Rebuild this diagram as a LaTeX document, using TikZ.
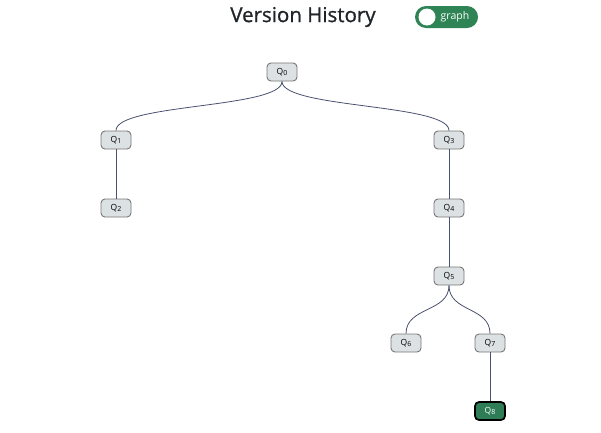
\documentclass[tikz,border=0pt]{standalone}
\usepackage{fontspec}
\setmainfont{Open Sans}
\newfontfamily\titlefont{Open Sans}[FakeBold=1]
\definecolor{tog}{RGB}{46,132,84}
\definecolor{nodefill}{RGB}{220,225,227}
\definecolor{nodeborder}{RGB}{118,118,118}
\definecolor{curfill}{RGB}{46,125,86}
\definecolor{linkcol}{RGB}{74,81,112}
\definecolor{titlecol}{RGB}{33,37,41}
\newcommand{\qv}[1]{Q\raisebox{-1.6pt}{\fontsize{7}{7}\selectfont #1}}
\begin{document}
\begin{tikzpicture}[x=1pt,y=-1pt,
  vnode/.style={draw=nodeborder,fill=nodefill,line width=0.9pt,rounded corners=4pt,minimum width=30pt,minimum height=18pt,inner sep=0pt,font=\fontsize{8.5}{9}\selectfont},
  curnode/.style={vnode,draw=black,line width=1.7pt,fill=curfill,text=white},
  link/.style={draw=linkcol,line width=0.8pt}]
\useasboundingbox (0,0) rectangle (601,432);
\node[text=titlecol] (title) at (303,17) {\titlefont\fontsize{20.5}{24}\selectfont Version History};
\node[draw=none,fill=tog,rounded corners=11pt,minimum width=63pt,minimum height=22pt,inner sep=0pt] (toggle) at (446.5,17) {};
\node[circle,fill=white,minimum size=17pt,inner sep=0pt] (knob) at (427,17) {};
\node[text=white,font=\fontsize{10.5}{12}\selectfont,inner sep=0pt] (tlabel) at (455,17) {graph};
\node[vnode] (q0) at (282,72) {\qv{0}};
\node[vnode] (q1) at (116,140) {\qv{1}};
\node[vnode] (q2) at (116,208) {\qv{2}};
\node[vnode] (q3) at (449,140) {\qv{3}};
\node[vnode] (q4) at (449,208) {\qv{4}};
\node[vnode] (q5) at (449,276) {\qv{5}};
\node[vnode] (q6) at (406,343) {\qv{6}};
\node[vnode] (q7) at (490,343) {\qv{7}};
\node[curnode] (q8) at (490,411) {\qv{8}};
\draw[link] (q0.south) .. controls +(0,27) and +(0,-27) .. (q1.north);
\draw[link] (q0.south) .. controls +(0,27) and +(0,-27) .. (q3.north);
\draw[link] (q1.south) -- (q2.north);
\draw[link] (q3.south) -- (q4.north);
\draw[link] (q4.south) -- (q5.north);
\draw[link] (q5.south) .. controls +(0,27) and +(0,-27) .. (q6.north);
\draw[link] (q5.south) .. controls +(0,27) and +(0,-27) .. (q7.north);
\draw[link] (q7.south) -- (q8.north);
\end{tikzpicture}
\end{document}
